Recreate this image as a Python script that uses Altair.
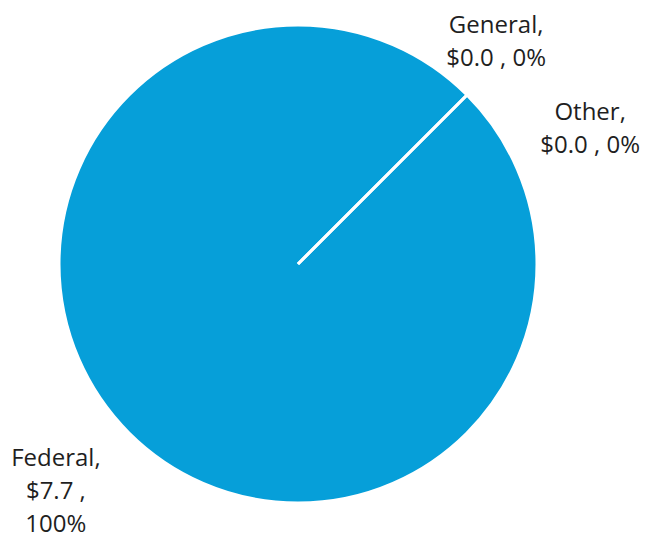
import altair as alt
import pandas as pd

categories = ["Federal", "General", "Other"]
amounts = [7.7, 0.0, 0.0]
percents = [100, 0, 0]
labels = ["Federal,\n$7.7 ,\n100%", "General,\n$0.0 , 0%", "Other,\n$0.0 , 0%"]
order = [1, 2, 3]

df = pd.DataFrame({
    "category": categories,
    "amount": amounts,
    "percent": percents,
    "label": labels,
    "order": order,
})

start = 3.141592653589793 / 4
theta_scale = alt.Scale(range=[start, start + 2 * 3.141592653589793])

base = alt.Chart(df).encode(
    theta=alt.Theta("amount:Q", stack=True, scale=theta_scale),
    order=alt.Order("order:Q"),
)

pie = base.mark_arc(
    outerRadius=239, color="#069FD9", stroke="white", strokeWidth=3, strokeCap="round"
)

offsets = {"Federal": (-30, -17), "General": (-14, -26), "Other": (80, 61)}
text_layers = []
for cat in categories:
    dx, dy = offsets[cat]
    text_layers.append(
        base.transform_filter(alt.datum.category == cat).mark_text(
            radius=300, font="Open Sans", fontSize=24, lineHeight=33,
            lineBreak="\n", color="#1F1F1F", align="center", baseline="middle",
            dx=dx, dy=dy,
        ).encode(text="label:N")
    )

chart = alt.layer(pie, *text_layers).properties(
    width=580, height=512,
    padding={"left": 0, "top": 0, "right": 55, "bottom": 20},
    autosize=alt.AutoSizeParams(type="none"),
).configure_view(stroke=None)

chart.save("out.html", embed_options={"renderer": "svg", "actions": False})
